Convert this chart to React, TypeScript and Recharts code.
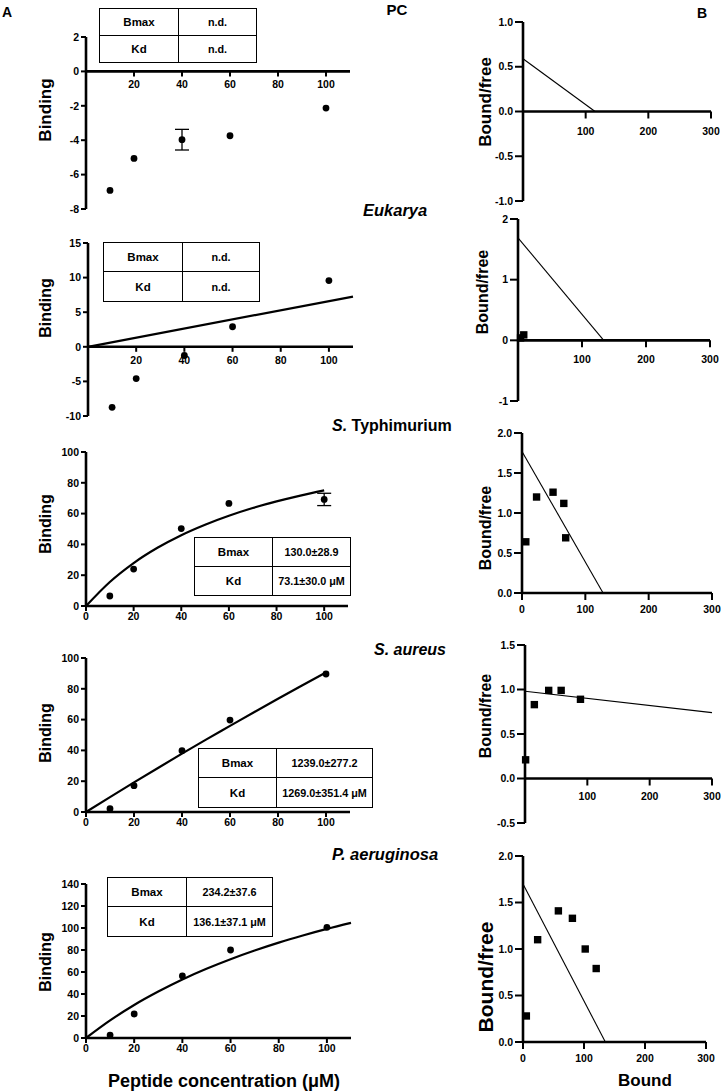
import React from 'react';
import {
  ComposedChart,
  Scatter,
  Line,
  XAxis,
  YAxis,
  ReferenceLine,
  ReferenceDot,
  ErrorBar,
} from 'recharts';

const FONT = '"Liberation Sans", Arial, Helvetica, sans-serif';

// ---------- Panel A: saturation binding vs peptide concentration (µM) ----------
const concentration = [10, 20, 40, 60, 100];

const pcBinding = [-6.92, -5.06, -3.97, -3.74, -2.13];
const pcBindingErr = [0, 0, 0.6, 0, 0];
const eukBinding = [-8.74, -4.59, -1.26, 2.9, 9.57];
const styBinding = [6.5, 24, 50.3, 66.6, 69.2];
const styBindingErr = [0, 0, 0, 0, 4];
const aurBinding = [2.1, 17.1, 39.8, 59.7, 89.6];
const paeBinding = [2.7, 21.8, 56.4, 80, 100.6];

// one-site fit curves
const eukFitConc = [0, 110];
const eukFitBinding = [0, 7.25];
const fitConc = [0, 10, 20, 30, 40, 50, 60, 70, 80, 90, 100];
const styFitBinding = [0, 15.6, 27.9, 37.8, 46.0, 52.8, 58.6, 63.6, 67.9, 71.7, 75.1];
const aurFitBinding = [0, 9.7, 19.2, 28.6, 37.9, 47.0, 55.9, 64.8, 73.5, 82.1, 90.6];
const paeFitConc = [0, 10, 20, 30, 40, 50, 60, 70, 80, 90, 100, 110];
const paeFitBinding = [0, 16.0, 30.0, 42.2, 53.2, 62.9, 71.6, 79.5, 86.7, 93.2, 99.2, 104.7];

// fit parameter tables
const pcTable = [['Bmax', 'n.d.'], ['Kd', 'n.d.']];
const eukTable = [['Bmax', 'n.d.'], ['Kd', 'n.d.']];
const styTable = [['Bmax', '130.0±28.9'], ['Kd', '73.1±30.0 μM']];
const aurTable = [['Bmax', '1239.0±277.2'], ['Kd', '1269.0±351.4 μM']];
const paeTable = [['Bmax', '234.2±37.6'], ['Kd', '136.1±37.1 μM']];

// ---------- Panel B: Scatchard plots (bound/free vs bound) ----------
const eukBound = [4, 9];
const eukRatio = [0.04, 0.09];
const styBound = [6, 23, 49, 66, 69];
const styRatio = [0.64, 1.2, 1.26, 1.12, 0.69];
const aurBound = [1, 15, 38, 58, 89];
const aurRatio = [0.21, 0.83, 0.99, 0.99, 0.89];
const paeBound = [5.5, 24, 58, 81, 102, 120];
const paeRatio = [0.28, 1.1, 1.41, 1.33, 1.0, 0.79];

const pcLineBound = [0, 115];
const pcLineRatio = [0.59, 0];
const eukLineBound = [0, 134];
const eukLineRatio = [1.69, 0];
const styLineBound = [0, 128];
const styLineRatio = [1.77, 0];
const aurLineBound = [0, 300];
const aurLineRatio = [0.98, 0.74];
const paeLineBound = [0, 135];
const paeLineRatio = [1.7, 0];

// axis ticks
const concTicksMid = [20, 40, 60, 80, 100];
const concTicks = [0, 20, 40, 60, 80, 100];
const boundTicksMid = [100, 200, 300];
const boundTicks = [0, 100, 200, 300];
const pcYTicks = [-8, -6, -4, -2, 0, 2];
const eukYTicks = [-10, -5, 0, 5, 10, 15];
const hundredTicks = [0, 20, 40, 60, 80, 100];
const paeYTicks = [0, 20, 40, 60, 80, 100, 120, 140];
const ratioTicksPc = [-1, -0.5, 0, 0.5, 1];
const ratioTicksEuk = [-1, 0, 1, 2];
const ratioTicks2 = [0, 0.5, 1, 1.5, 2];
const ratioTicksAur = [-0.5, 0, 0.5, 1, 1.5];

type Pt = { x: number; y: number; err?: number };

const zip = (xs: number[], ys: number[], errs?: number[]): Pt[] =>
  xs.map((x, i) => {
    const p: Pt = { x, y: ys[i] };
    if (errs && errs[i]) p.err = errs[i];
    return p;
  });

interface PanelSpec {
  box: { l: number; r: number; t: number; b: number };
  xDomain: [number, number];
  xTicks: number[];
  yDomain: [number, number];
  yTicks: number[];
  yDecimals: number;
  crossAtZero: boolean;
  points: Pt[];
  marker: 'circle' | 'square';
  fit: Pt[];
  fitWidth: number;
  smooth: boolean;
  yTickSize: number;
  xTickSize: number;
  xTickMargin: number;
  midLabelDy: number;
}

const YW = 50;
const MT = 12;
const MR = 14;
const XH = 30;

const tickStyle = { fontFamily: FONT, fontSize: 10.5, fontWeight: 700, fill: '#000' };

const Circle = (p: any) => <circle cx={p.cx} cy={p.cy} r={3.4} fill="#000" />;
const Square = (p: any) => (
  <rect x={p.cx - 3.7} y={p.cy - 3.7} width={7.4} height={7.4} fill="#000" />
);

function Panel({ s }: { s: PanelSpec }) {
  const w = s.box.r - s.box.l + YW + MR;
  const h = s.box.b - s.box.t + MT + XH;
  return (
    <div style={{ position: 'absolute', left: s.box.l - YW, top: s.box.t - MT }}>
      <ComposedChart
        width={w}
        height={h}
        margin={{ top: MT, right: MR, left: 0, bottom: s.crossAtZero ? XH : 0 }}
      >
        <XAxis
          type="number"
          dataKey="x"
          domain={s.xDomain}
          ticks={s.xTicks}
          interval={0}
          hide={s.crossAtZero}
          height={XH}
          axisLine={{ stroke: '#000', strokeWidth: 2.6 }}
          tickLine={{ stroke: '#000', strokeWidth: 2 }}
          tickSize={s.xTickSize}
          tickMargin={s.xTickMargin}
          tick={tickStyle}
        />
        <YAxis
          type="number"
          dataKey="y"
          domain={s.yDomain}
          ticks={s.yTicks}
          interval={0}
          width={YW}
          axisLine={{ stroke: '#000', strokeWidth: 2.6 }}
          tickLine={{ stroke: '#000', strokeWidth: 2 }}
          tickSize={s.yTickSize}
          tickMargin={2}
          tick={tickStyle}
          tickFormatter={(v: number) => v.toFixed(s.yDecimals)}
        />
        {s.crossAtZero && <ReferenceLine y={0} stroke="#000" strokeWidth={2.6} />}
        {s.crossAtZero &&
          s.xTicks.map((t) => (
            <ReferenceDot
              key={t}
              x={t}
              y={0}
              shape={(p: any) => (
                <g>
                  <line
                    x1={p.cx}
                    y1={p.cy}
                    x2={p.cx}
                    y2={p.cy + s.xTickSize}
                    stroke="#000"
                    strokeWidth={2}
                  />
                  <text x={p.cx} y={p.cy + s.midLabelDy} textAnchor="middle" style={tickStyle}>
                    {t}
                  </text>
                </g>
              )}
            />
          ))}
        <Line
          data={s.fit}
          dataKey="y"
          type={s.smooth ? 'monotone' : 'linear'}
          stroke="#000"
          strokeWidth={s.fitWidth}
          dot={false}
          activeDot={false}
          isAnimationActive={false}
        />
        <Scatter
          data={s.points}
          dataKey="y"
          shape={s.marker === 'circle' ? Circle : Square}
          isAnimationActive={false}
        >
          <ErrorBar dataKey="err" direction="y" width={7} stroke="#000" strokeWidth={1.3} />
        </Scatter>
      </ComposedChart>
    </div>
  );
}

const aBase = {
  xDomain: [0, 110] as [number, number],
  yDecimals: 0,
  marker: 'circle' as const,
  yTickSize: 5,
  xTickSize: 5,
  xTickMargin: 2,
  midLabelDy: 17,
};

const bBase = {
  xDomain: [0, 300] as [number, number],
  marker: 'square' as const,
  fitWidth: 1.1,
  smooth: false,
  yTickSize: 8,
  xTickSize: 7,
  xTickMargin: 6,
  midLabelDy: 23,
};

const panels: PanelSpec[] = [
  {
    ...aBase,
    box: { l: 86, r: 350, t: 37, b: 209 },
    xTicks: concTicksMid,
    yDomain: [-8, 2],
    yTicks: pcYTicks,
    crossAtZero: true,
    points: zip(concentration, pcBinding, pcBindingErr),
    fit: [],
    fitWidth: 2,
    smooth: false,
  },
  {
    ...aBase,
    box: { l: 88, r: 353, t: 243, b: 416 },
    xTicks: concTicksMid,
    yDomain: [-10, 15],
    yTicks: eukYTicks,
    crossAtZero: true,
    points: zip(concentration, eukBinding),
    fit: zip(eukFitConc, eukFitBinding),
    fitWidth: 2.2,
    smooth: false,
  },
  {
    ...aBase,
    box: { l: 86, r: 348, t: 452, b: 606 },
    xTicks: concTicks,
    yDomain: [0, 100],
    yTicks: hundredTicks,
    crossAtZero: false,
    points: zip(concentration, styBinding, styBindingErr),
    fit: zip(fitConc, styFitBinding),
    fitWidth: 2.2,
    smooth: true,
  },
  {
    ...aBase,
    box: { l: 86, r: 350, t: 658, b: 812 },
    xTicks: concTicks,
    yDomain: [0, 100],
    yTicks: hundredTicks,
    crossAtZero: false,
    points: zip(concentration, aurBinding),
    fit: zip(fitConc, aurFitBinding),
    fitWidth: 2.2,
    smooth: true,
  },
  {
    ...aBase,
    box: { l: 86, r: 351, t: 884, b: 1038 },
    xTicks: concTicks,
    yDomain: [0, 140],
    yTicks: paeYTicks,
    crossAtZero: false,
    points: zip(concentration, paeBinding),
    fit: zip(paeFitConc, paeFitBinding),
    fitWidth: 2.2,
    smooth: true,
  },
  {
    ...bBase,
    box: { l: 523, r: 711, t: 22, b: 201 },
    xTicks: boundTicksMid,
    yDomain: [-1, 1],
    yTicks: ratioTicksPc,
    yDecimals: 1,
    crossAtZero: true,
    points: [],
    fit: zip(pcLineBound, pcLineRatio),
  },
  {
    ...bBase,
    box: { l: 518, r: 710, t: 219, b: 401 },
    xTicks: boundTicksMid,
    yDomain: [-1, 2],
    yTicks: ratioTicksEuk,
    yDecimals: 0,
    crossAtZero: true,
    points: zip(eukBound, eukRatio),
    fit: zip(eukLineBound, eukLineRatio),
  },
  {
    ...bBase,
    box: { l: 522, r: 712, t: 433, b: 593 },
    xTicks: boundTicks,
    yDomain: [0, 2],
    yTicks: ratioTicks2,
    yDecimals: 1,
    crossAtZero: false,
    points: zip(styBound, styRatio),
    fit: zip(styLineBound, styLineRatio),
  },
  {
    ...bBase,
    box: { l: 525, r: 712, t: 645, b: 823 },
    xTicks: boundTicksMid,
    yDomain: [-0.5, 1.5],
    yTicks: ratioTicksAur,
    yDecimals: 1,
    crossAtZero: true,
    midLabelDy: 21,
    points: zip(aurBound, aurRatio),
    fit: zip(aurLineBound, aurLineRatio),
  },
  {
    ...bBase,
    box: { l: 523, r: 706, t: 856, b: 1042 },
    xTicks: boundTicks,
    yDomain: [0, 2],
    yTicks: ratioTicks2,
    yDecimals: 1,
    crossAtZero: false,
    points: zip(paeBound, paeRatio),
    fit: zip(paeLineBound, paeLineRatio),
  },
];

interface TableSpec {
  rows: string[][];
  l: number;
  t: number;
  r: number;
  b: number;
  split: number;
}

const tables: TableSpec[] = [
  { rows: pcTable, l: 99, t: 8, r: 257, b: 63, split: 178 },
  { rows: eukTable, l: 103, t: 242, r: 260, b: 302, split: 182 },
  { rows: styTable, l: 194, t: 537, r: 351, b: 596, split: 272 },
  { rows: aurTable, l: 198, t: 748, r: 373, b: 808, split: 276 },
  { rows: paeTable, l: 107, t: 877, r: 273, b: 937, split: 186 },
];

function FitTable({ s }: { s: TableSpec }) {
  const line = '1.5px solid #000';
  return (
    <div
      style={{
        position: 'absolute',
        left: s.l,
        top: s.t,
        width: s.r - s.l,
        height: s.b - s.t,
        boxSizing: 'border-box',
        border: line,
        background: '#fff',
        display: 'grid',
        gridTemplateColumns: `${s.split - s.l}px 1fr`,
        gridTemplateRows: '1fr 1fr',
        fontFamily: FONT,
        fontWeight: 700,
        color: '#000',
      }}
    >
      {s.rows.map((row, ri) =>
        row.map((cell, ci) => (
          <div
            key={`${ri}-${ci}`}
            style={{
              display: 'flex',
              alignItems: 'center',
              justifyContent: 'center',
              fontSize: ci === 0 ? 11.5 : 10.8,
              whiteSpace: 'nowrap',
              borderRight: ci === 0 ? line : undefined,
              borderBottom: ri === 0 ? line : undefined,
            }}
          >
            {cell}
          </div>
        ))
      )}
    </div>
  );
}

const yTitles = [
  { text: 'Binding', x: 45, y: 110, size: 17 },
  { text: 'Binding', x: 45, y: 308, size: 16 },
  { text: 'Binding', x: 45, y: 524, size: 16 },
  { text: 'Binding', x: 45, y: 733, size: 16 },
  { text: 'Binding', x: 45, y: 962, size: 16 },
  { text: 'Bound/free', x: 485, y: 102, size: 17 },
  { text: 'Bound/free', x: 482, y: 292, size: 16 },
  { text: 'Bound/free', x: 485, y: 528, size: 16 },
  { text: 'Bound/free', x: 485, y: 716, size: 16 },
  { text: 'Bound/free', x: 485, y: 977, size: 21 },
];

function Titles() {
  const base = { fontFamily: FONT, fontWeight: 700, fill: '#000' } as const;
  return (
    <svg
      width={722}
      height={1091}
      style={{ position: 'absolute', left: 0, top: 0, pointerEvents: 'none' }}
    >
      <text x={2} y={17} fontSize={14} style={base}>A</text>
      <text x={707} y={18} fontSize={14} textAnchor="end" style={base}>B</text>
      <text x={397} y={15} fontSize={15} textAnchor="middle" style={base}>PC</text>

      <text x={363} y={216} fontSize={16.5} fontStyle="italic" style={base}>Eukarya</text>
      <text x={332} y={431} fontSize={16} style={base}>
        <tspan fontStyle="italic">S.</tspan> Typhimurium
      </text>
      <text x={446} y={655} fontSize={16} fontStyle="italic" textAnchor="end" style={base}>
        S. aureus
      </text>
      <text x={332} y={860} fontSize={16.5} fontStyle="italic" style={base}>P. aeruginosa</text>

      {yTitles.map((t, i) => (
        <text
          key={i}
          transform={`translate(${t.x},${t.y}) rotate(-90)`}
          textAnchor="middle"
          dominantBaseline="central"
          fontSize={t.size}
          style={base}
        >
          {t.text}
        </text>
      ))}

      <text x={224} y={1087} fontSize={18} textAnchor="middle" style={base}>
        Peptide concentration (μM)
      </text>
      <text x={645} y={1086} fontSize={17} textAnchor="middle" style={base}>Bound</text>
    </svg>
  );
}

export default function App() {
  return (
    <div
      style={{
        position: 'absolute',
        left: 0,
        top: 0,
        width: 722,
        height: 1091,
        background: '#fff',
        overflow: 'hidden',
      }}
    >
      {panels.map((p, i) => (
        <Panel key={i} s={p} />
      ))}
      {tables.map((t, i) => (
        <FitTable key={i} s={t} />
      ))}
      <Titles />
    </div>
  );
}
